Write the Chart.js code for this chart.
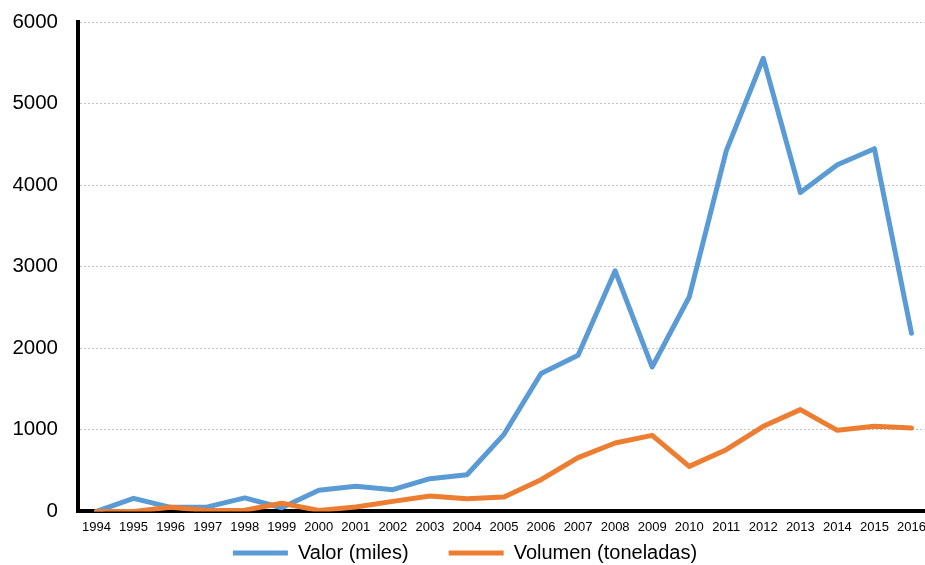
<!DOCTYPE html>
<html lang="es">
  <head>
    <meta charset="UTF-8" />
    <title>Valor y volumen 1994-2016</title>
    <script src="https://cdn.jsdelivr.net/npm/chart.js"></script>
    <style>
      html, body { margin: 0; padding: 0; overflow: hidden; background: #fff; }
      #wrap { width: 930px; height: 565px; }
    </style>
  </head>
  <body>
    <div id="wrap"><canvas id="chart"></canvas></div>

    <script>
      const years = ["1994", "1995", "1996", "1997", "1998", "1999", "2000", "2001",
        "2002", "2003", "2004", "2005", "2006", "2007", "2008", "2009", "2010",
        "2011", "2012", "2013", "2014", "2015", "2016"];

      // Valor (miles)
      const valor = [0, 160, 50, 55, 165, 45, 258, 307, 266, 401, 450, 945, 1690,
        1914, 2950, 1770, 2628, 4420, 5555, 3910, 4250, 4447, 2185];

      // Volumen (toneladas)
      const volumen = [0, 0, 50, 10, 15, 100, 12, 53, 123, 188, 156, 176, 389,
        659, 838, 932, 552, 757, 1043, 1248, 994, 1043, 1022];

      const yTicks = [0, 1000, 2000, 3000, 4000, 5000, 6000];

      const font = "'Liberation Sans', Arial, sans-serif";
      const legendGap = 40;

      // legend: wide gap between items but kept tight under the axis labels
      const legendFit = {
        id: "legendFit",
        beforeInit(chart) {
          const fit = chart.legend.fit;
          chart.legend.fit = function () {
            fit.call(this);
            this.height = 22;
          };
        },
        afterLayout(chart) {
          chart.legend.top -= legendGap;
        },
      };

      new Chart(document.getElementById("chart"), {
        type: "line",
        data: {
          labels: years,
          datasets: [
            {
              label: "Valor (miles)",
              data: valor,
              borderColor: "#5B9BD5",
              backgroundColor: "#5B9BD5",
              borderWidth: 5,
              borderCapStyle: "round",
              borderJoinStyle: "round",
              pointRadius: 0,
              tension: 0,
              order: 1,
            },
            {
              label: "Volumen (toneladas)",
              data: volumen,
              borderColor: "#ED7D31",
              backgroundColor: "#ED7D31",
              borderWidth: 5,
              borderCapStyle: "round",
              borderJoinStyle: "round",
              pointRadius: 0,
              tension: 0,
              order: 0,
            },
          ],
        },
        options: {
          responsive: true,
          maintainAspectRatio: false,
          animation: false,
          layout: { padding: { top: 22, left: 0, right: 0, bottom: 0 } },
          plugins: {
            tooltip: { enabled: false },
            legend: {
              position: "bottom",
              labels: {
                usePointStyle: true,
                pointStyle: "line",
                pointStyleWidth: 55,
                padding: legendGap,
                color: "#000",
                font: { family: font, size: 20 },
                sort: (a, b) => a.datasetIndex - b.datasetIndex,
              },
            },
          },
          scales: {
            x: {
              offset: true,
              afterFit: (s) => {
                s.paddingLeft = 0;
                s.paddingRight = 0;
              },
              grid: { display: false, drawTicks: false },
              border: { display: true, color: "#000", width: 4 },
              ticks: {
                color: "#000",
                padding: 8,
                maxRotation: 0,
                autoSkip: false,
                font: { family: font, size: 13 },
              },
            },
            y: {
              min: 0,
              max: 6000,
              afterBuildTicks: (s) => { s.ticks = yTicks.map((v) => ({ value: v })); },
              afterFit: (s) => {
                s.width = 78;
                s.paddingTop = 0;
                s.paddingBottom = 0;
              },
              grid: { color: "#c4c4c4", lineWidth: 1, drawTicks: false },
              border: { display: true, color: "#000", width: 4, dash: [2, 2] },
              ticks: {
                color: "#000",
                padding: 20,
                font: { family: font, size: 20.5 },
                callback: (v) => String(v),
              },
            },
          },
        },
        plugins: [legendFit],
      });
    </script>
  </body>
</html>
